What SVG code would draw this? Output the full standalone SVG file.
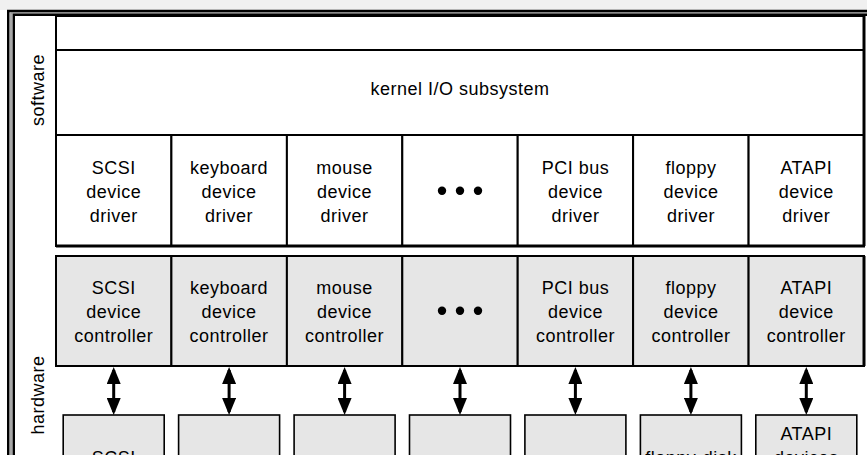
<svg xmlns="http://www.w3.org/2000/svg" width="867" height="455" viewBox="0 0 867 455">
<style>
  text { font-family: "Liberation Sans", Arial, sans-serif; font-size: 18px; letter-spacing: 0.5px; fill: #000; text-anchor: middle; }
  .sw { fill: #fff; stroke: #000; stroke-width: 2; }
  .hw { fill: #e6e6e6; stroke: #000; stroke-width: 2; }
  .dev { fill: #e6e6e6; stroke: #000; stroke-width: 1.6; }
  .conn { stroke: #000; stroke-width: 3; fill: none; marker-start: url(#ah); marker-end: url(#ah); }
</style>
<defs>
  <marker id="ah" markerUnits="userSpaceOnUse" markerWidth="17" markerHeight="14" refX="14" refY="7" orient="auto-start-reverse" viewBox="0 0 17 14">
    <path d="M0,0 L17,7 L0,14 z" fill="#000"/>
  </marker>
</defs>
<rect x="0" y="0" width="867" height="455" fill="#fff"/>
<rect x="0" y="0" width="867" height="10" fill="#f0f0f0"/>
<g id="frame">
  <rect x="8.25" y="11" width="880" height="500" fill="none" stroke="#000" stroke-width="2.5"/>
  <rect x="11" y="12.75" width="880" height="500" fill="none" stroke="#8a8a8a" stroke-width="1.5"/>
  <rect x="13.75" y="14.75" width="880" height="500" fill="#fff" stroke="#000" stroke-width="2.5"/>
</g>
<g id="label-software"><text transform="translate(44,90) rotate(-90)">software</text></g>
<g id="label-hardware"><text transform="translate(44,395) rotate(-90)">hardware</text></g>
<g id="top-layer"><rect class="sw" x="56" y="16" width="808" height="34"/></g>
<g id="kernel"><rect class="sw" x="56" y="50" width="808" height="85"/><text x="460" y="95">kernel I/O subsystem</text></g>
<g id="drv-scsi"><rect class="sw" x="56" y="135" width="115.4" height="111"/><text x="113.7" y="173.5">SCSI</text><text x="113.7" y="197.5">device</text><text x="113.7" y="221.5">driver</text></g>
<g id="drv-keyboard"><rect class="sw" x="171.4" y="135" width="115.5" height="111"/><text x="229.1" y="173.5">keyboard</text><text x="229.1" y="197.5">device</text><text x="229.1" y="221.5">driver</text></g>
<g id="drv-mouse"><rect class="sw" x="286.9" y="135" width="115.4" height="111"/><text x="344.6" y="173.5">mouse</text><text x="344.6" y="197.5">device</text><text x="344.6" y="221.5">driver</text></g>
<g id="drv-dots"><rect class="sw" x="402.3" y="135" width="115.4" height="111"/><circle cx="442" cy="190.7" r="4.2"/><circle cx="460" cy="190.7" r="4.2"/><circle cx="478" cy="190.7" r="4.2"/></g>
<g id="drv-pci"><rect class="sw" x="517.7" y="135" width="115.4" height="111"/><text x="575.4" y="173.5">PCI bus</text><text x="575.4" y="197.5">device</text><text x="575.4" y="221.5">driver</text></g>
<g id="drv-floppy"><rect class="sw" x="633.1" y="135" width="115.5" height="111"/><text x="690.9" y="173.5">floppy</text><text x="690.9" y="197.5">device</text><text x="690.9" y="221.5">driver</text></g>
<g id="drv-atapi"><rect class="sw" x="748.6" y="135" width="115.4" height="111"/><text x="806.3" y="173.5">ATAPI</text><text x="806.3" y="197.5">device</text><text x="806.3" y="221.5">driver</text></g>
<line x1="56" y1="246" x2="865" y2="246" stroke="#000" stroke-width="3"/>
<line x1="864" y1="16" x2="864" y2="246" stroke="#000" stroke-width="3"/>

<g id="ctl-scsi"><rect class="hw" x="56" y="256" width="115.4" height="110"/><text x="113.7" y="293.5">SCSI</text><text x="113.7" y="317.5">device</text><text x="113.7" y="341.5">controller</text></g>
<g id="ctl-keyboard"><rect class="hw" x="171.4" y="256" width="115.5" height="110"/><text x="229.1" y="293.5">keyboard</text><text x="229.1" y="317.5">device</text><text x="229.1" y="341.5">controller</text></g>
<g id="ctl-mouse"><rect class="hw" x="286.9" y="256" width="115.4" height="110"/><text x="344.6" y="293.5">mouse</text><text x="344.6" y="317.5">device</text><text x="344.6" y="341.5">controller</text></g>
<g id="ctl-dots"><rect class="hw" x="402.3" y="256" width="115.4" height="110"/><circle cx="442" cy="310.7" r="4.2"/><circle cx="460" cy="310.7" r="4.2"/><circle cx="478" cy="310.7" r="4.2"/></g>
<g id="ctl-pci"><rect class="hw" x="517.7" y="256" width="115.4" height="110"/><text x="575.4" y="293.5">PCI bus</text><text x="575.4" y="317.5">device</text><text x="575.4" y="341.5">controller</text></g>
<g id="ctl-floppy"><rect class="hw" x="633.1" y="256" width="115.5" height="110"/><text x="690.9" y="293.5">floppy</text><text x="690.9" y="317.5">device</text><text x="690.9" y="341.5">controller</text></g>
<g id="ctl-atapi"><rect class="hw" x="748.6" y="256" width="115.4" height="110"/><text x="806.3" y="293.5">ATAPI</text><text x="806.3" y="317.5">device</text><text x="806.3" y="341.5">controller</text></g>
<line x1="864" y1="256" x2="864" y2="366" stroke="#000" stroke-width="3"/>

<g id="connectors">
  <line class="conn" x1="113.7" y1="370" x2="113.7" y2="412"/>
  <line class="conn" x1="229.1" y1="370" x2="229.1" y2="412"/>
  <line class="conn" x1="344.6" y1="370" x2="344.6" y2="412"/>
  <line class="conn" x1="460" y1="370" x2="460" y2="412"/>
  <line class="conn" x1="575.4" y1="370" x2="575.4" y2="412"/>
  <line class="conn" x1="690.9" y1="370" x2="690.9" y2="412"/>
  <line class="conn" x1="806.3" y1="370" x2="806.3" y2="412"/>
</g>

<g id="dev-scsi"><rect class="dev" x="63.2" y="415" width="101" height="90"/><text x="113.7" y="464">SCSI</text><text x="113.7" y="488">devices</text></g>
<g id="dev-keyboard"><rect class="dev" x="178.6" y="415" width="101" height="90"/></g>
<g id="dev-mouse"><rect class="dev" x="294.1" y="415" width="101" height="90"/></g>
<g id="dev-dots"><rect class="dev" x="409.5" y="415" width="101" height="90"/></g>
<g id="dev-pci"><rect class="dev" x="524.9" y="415" width="101" height="90"/></g>
<g id="dev-floppy"><rect class="dev" x="640.4" y="415" width="101" height="90"/><text x="690.9" y="464" font-size="16">floppy-disk</text><text x="690.9" y="488" font-size="16">drives</text></g>
<g id="dev-atapi"><rect class="dev" x="755.8" y="415" width="101" height="90"/><text x="806.3" y="440">ATAPI</text><text x="806.3" y="464">devices</text></g>
</svg>
